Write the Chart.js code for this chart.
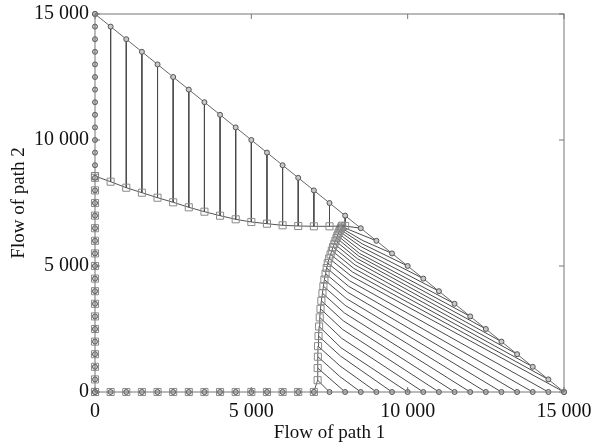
<!DOCTYPE html>
<html>
<head>
<meta charset="utf-8">
<script src="https://cdn.jsdelivr.net/npm/chart.js@4.4.0/dist/chart.umd.min.js"></script>
<style>
html, body { margin: 0; padding: 0; background: #fff; }
</style>
</head>
<body>
<canvas id="grafica" width="598" height="448"></canvas>
<script>
// marcas de los ejes
const ejeTicks = [0, 5000, 10000, 15000];

// puntos iniciales (circulos) cada 500 en los bordes
const malla = [0, 500, 1000, 1500, 2000, 2500, 3000, 3500, 4000, 4500, 5000, 5500, 6000, 6500, 7000, 7500,
    8000, 8500, 9000, 9500, 10000, 10500, 11000, 11500, 12000, 12500, 13000, 13500, 14000, 14500, 15000];
const hipY = [15000, 14500, 14000, 13500, 13000, 12500, 12000, 11500, 11000, 10500, 10000, 9500, 9000, 8500, 8000, 7500,
    7000, 6500, 6000, 5500, 5000, 4500, 4000, 3500, 3000, 2500, 2000, 1500, 1000, 500, 0];

// puntos que no se mueven (cuadros sobre los ejes)
const fijosY = [0, 500, 1000, 1500, 2000, 2500, 3000, 3500, 4000, 4500, 5000, 5500, 6000, 6500, 7000, 7500, 8000, 8500, 8570];
const fijosX = [0, 500, 1000, 1500, 2000, 2500, 3000, 3500, 4000, 4500, 5000, 5500, 6000, 6500, 7000];

// curva de arriba (final de las lineas verticales)
const arribaX = [0, 500, 1000, 1500, 2000, 2500, 3000, 3500, 4000, 4500, 5000, 5500, 6000, 6500, 7000, 7500, 8000];
const arribaY = [8570, 8345, 8107, 7909, 7710, 7528, 7329, 7155, 6996, 6853, 6746, 6679, 6615, 6587, 6575, 6575, 6590];

// abanico de la derecha: inicio en el borde, codo, final en la curva
const abanicoIniX = [7500, 8000, 8500, 9000, 9500, 10000, 10500, 11000, 11500, 12000, 12500, 13000, 13500, 14000, 14500,
    15000, 14500, 14000, 13500, 13000, 12500, 12000, 11500, 11000, 10500, 10000, 9500, 9000, 8500];
const abanicoIniY = [0, 0, 0, 0, 0, 0, 0, 0, 0, 0, 0, 0, 0, 0, 0,
    0, 500, 1000, 1500, 2000, 2500, 3000, 3500, 4000, 4500, 5000, 5500, 6000, 6500];
const codoX = [null, null, 7828, 7833, 7850, 7868, 7888, 7912, 7940, 7975, 8005, 8037, 8075, 8110, 8145,
    8190, 8235, 8275, 8315, 8355, 8390, 8425, 8455, 8482, 8515, 8545, 8568, null, null];
const codoY = [null, null, 616, 1038, 1429, 1757, 2134, 2490, 2825, 3139, 3434, 3709, 3963, 4197, 4412,
    4606, 4762, 4908, 5044, 5172, 5291, 5401, 5503, 5630, 5760, 5879, 6007, null, null];
const abanicoFinX = [7120, 7122, 7128, 7133, 7150, 7168, 7188, 7212, 7240, 7275, 7305, 7337, 7375, 7410, 7445,
    7490, 7535, 7575, 7615, 7655, 7690, 7725, 7755, 7782, 7815, 7845, 7868, 7889, 7905];
const abanicoFinY = [470, 950, 1400, 1820, 2220, 2600, 2960, 3300, 3620, 3920, 4200, 4460, 4700, 4920, 5120,
    5300, 5460, 5610, 5750, 5880, 6000, 6110, 6210, 6300, 6380, 6450, 6510, 6560, 6600];

function puntos(xs, ys) {
    return xs.map((x, i) => ({ x: x, y: ys[i] }));
}

function formato(v) {
    return String(v).replace(/\B(?=(\d{3})+(?!\d))/g, ' ');
}

const circulo = {
    showLine: false, clip: false, pointStyle: 'circle', pointRadius: 2.5, pointBorderWidth: 1,
    pointBorderColor: '#555', pointBackgroundColor: '#c8c8c8'
};
const cuadro = {
    clip: false, pointStyle: 'rect', pointRadius: 5, pointBorderWidth: 1,
    pointBorderColor: '#8a8a8a', pointBackgroundColor: 'rgba(0,0,0,0)'
};
const linea = { showLine: true, clip: false, pointRadius: 0, borderColor: '#4a4a4a', borderWidth: 1 };

const datasets = [];

// circulos
datasets.push(Object.assign({ data: puntos(malla, hipY) }, circulo));
datasets.push(Object.assign({ data: puntos(malla.map(() => 0), malla) }, circulo));
datasets.push(Object.assign({ data: puntos(malla, malla.map(() => 0)) }, circulo));

// cuadros fijos
datasets.push(Object.assign({ data: puntos(fijosY.map(() => 0), fijosY), showLine: false }, cuadro));
datasets.push(Object.assign({ data: puntos(fijosX, fijosX.map(() => 0)), showLine: false }, cuadro));

// curva de arriba
datasets.push(Object.assign({ data: puntos(arribaX, arribaY), showLine: true, borderColor: '#555', borderWidth: 1 }, cuadro));

// curva de la derecha, empieza en (7000, 0)
datasets.push(Object.assign({}, cuadro, {
    data: [{ x: 7000, y: 0 }].concat(puntos(abanicoFinX, abanicoFinY)),
    showLine: true, borderColor: '#555', borderWidth: 1,
    pointRadius: ctx => ctx.dataIndex === 0 ? 0 : 5
}));

// borde x + y = 15000
datasets.push(Object.assign({ data: puntos(malla, hipY) }, linea, { borderColor: '#666' }));

// lineas verticales
for (let i = 1; i < arribaX.length; i++) {
    datasets.push(Object.assign({
        data: [{ x: arribaX[i], y: hipY[i] }, { x: arribaX[i], y: arribaY[i] }]
    }, linea));
}

// abanico
for (let i = 0; i < abanicoIniX.length; i++) {
    const tramo = [{ x: abanicoIniX[i], y: abanicoIniY[i] }];
    if (codoX[i] !== null) tramo.push({ x: codoX[i], y: codoY[i] });
    tramo.push({ x: abanicoFinX[i], y: abanicoFinY[i] });
    datasets.push(Object.assign({ data: tramo }, linea));
}

// marco y marcas hacia dentro
const marco = {
    id: 'marco',
    afterDatasetsDraw(chart) {
        const ctx = chart.ctx;
        const a = chart.chartArea;
        const sx = chart.scales.x;
        const sy = chart.scales.y;
        ctx.save();
        ctx.strokeStyle = '#777';
        ctx.lineWidth = 1;
        ctx.strokeRect(a.left, a.top, a.right - a.left, a.bottom - a.top);
        ctx.beginPath();
        ejeTicks.forEach(v => {
            const px = sx.getPixelForValue(v);
            ctx.moveTo(px, a.bottom); ctx.lineTo(px, a.bottom - 5);
            ctx.moveTo(px, a.top); ctx.lineTo(px, a.top + 5);
            const py = sy.getPixelForValue(v);
            ctx.moveTo(a.left, py); ctx.lineTo(a.left + 5, py);
            ctx.moveTo(a.right, py); ctx.lineTo(a.right - 5, py);
        });
        ctx.stroke();
        ctx.restore();
    }
};

const fuente = { family: "'Liberation Serif', 'DejaVu Serif', serif", size: 20 };

new Chart(document.getElementById('grafica'), {
    type: 'scatter',
    data: { datasets: datasets },
    options: {
        responsive: false,
        animation: false,
        layout: { autoPadding: false, padding: { top: 14, right: 34, left: 0, bottom: 0 } },
        plugins: { legend: { display: false }, tooltip: { enabled: false } },
        scales: {
            x: {
                type: 'linear', min: 0, max: 15000,
                afterBuildTicks: s => { s.ticks = ejeTicks.map(v => ({ value: v })); },
                afterFit: s => { s.height = 56; s.paddingLeft = 0; s.paddingRight = 0; },
                grid: { display: false, drawTicks: false, tickLength: 0 },
                border: { display: false },
                ticks: { callback: v => formato(v), font: fuente, color: '#111', padding: 8, maxRotation: 0 },
                title: { display: true, text: 'Flow of path 1', font: { family: fuente.family, size: 19 }, color: '#111', padding: { top: 0, bottom: 4 } }
            },
            y: {
                type: 'linear', min: 0, max: 15000,
                afterBuildTicks: s => { s.ticks = ejeTicks.map(v => ({ value: v })); },
                afterFit: s => { s.width = 95; s.paddingTop = 0; s.paddingBottom = 0; },
                grid: { display: false, drawTicks: false, tickLength: 0 },
                border: { display: false },
                ticks: { callback: v => formato(v), font: fuente, color: '#111', padding: 6 },
                title: { display: true, text: 'Flow of path 2', font: { family: fuente.family, size: 19 }, color: '#111', padding: { top: 8, bottom: 0 } }
            }
        }
    },
    plugins: [marco]
});
</script>
</body>
</html>
